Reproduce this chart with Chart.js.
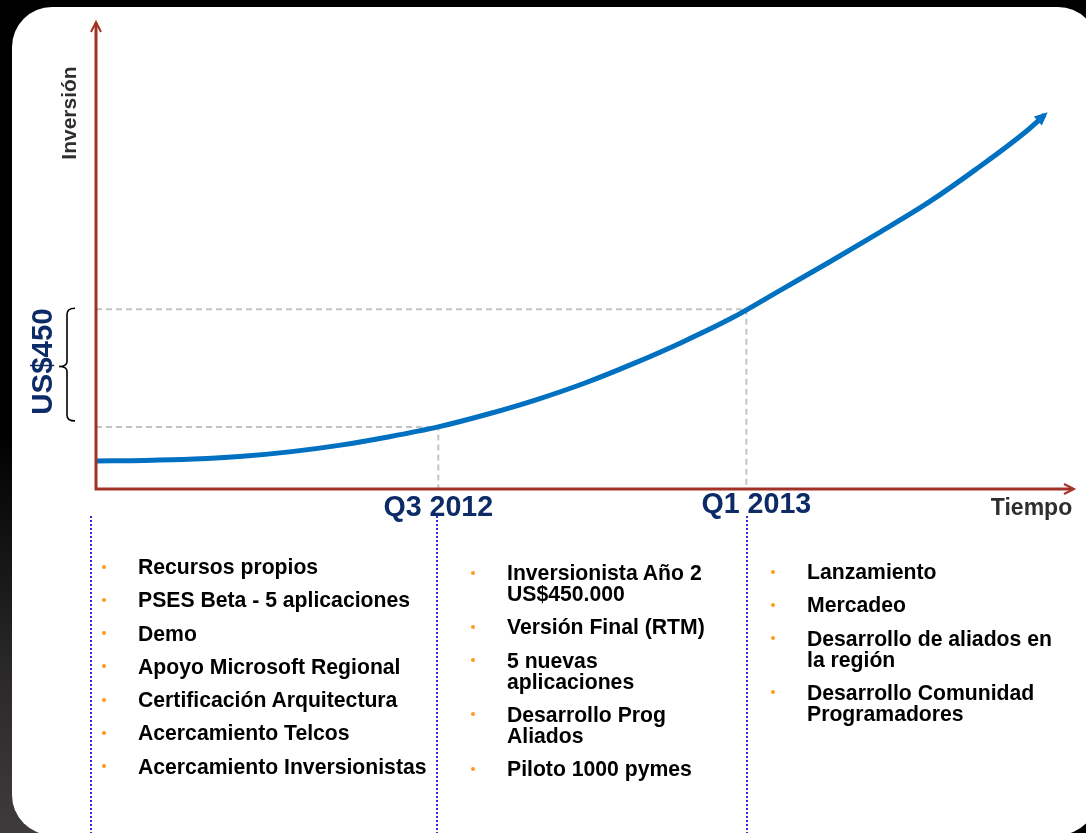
<!DOCTYPE html>
<html>
<head>
<meta charset="utf-8">
<script src="https://cdn.jsdelivr.net/npm/chart.js@4/dist/chart.umd.min.js"></script>
<style>
    html, body { margin: 0; padding: 0; background: #000; overflow: hidden; }
    body { width: 1086px; height: 833px; position: relative; font-family: "Liberation Sans", Arial, sans-serif; }
    .shade { position: absolute; left: 0; top: 430px; width: 40px; height: 403px;
             background: linear-gradient(to bottom, #000 0%, #2a2828 60%, #3d3b3b 100%); }
    .panel { position: absolute; left: 12px; top: 7px; width: 1086px; height: 828px;
             background: #fff; border-radius: 40px; }
    .wrap { position: absolute; left: 0; top: 0; width: 1086px; height: 833px; }
    ul.items { position: absolute; margin: 0; padding: 0; list-style: none;
               font-weight: bold; font-size: 21.2px; line-height: 21px; color: #000; }
    ul.items li { position: relative; padding-left: 36px; margin-bottom: 12.3px; white-space: pre-line; }
    ul.items li::before { content: ''; position: absolute; left: 0; top: 8.5px; width: 4px; height: 4px;
                          border-radius: 50%; background: #ff9a1a; }
</style>
</head>
<body>
<div class="shade"></div>
<div class="panel"></div>
<div class="wrap"><canvas id="growthChart"></canvas></div>
<ul class="items" id="col1" style="left:102px; top:556px"></ul>
<ul class="items" id="col2" style="left:471px; top:562px"></ul>
<ul class="items" id="col3" style="left:771px; top:561px"></ul>
<script>
// curva de inversión (unidades relativas 0-100)
const curveX = [0, 5, 10, 15, 20, 25, 30, 35, 40, 45, 50, 55, 60, 65, 70, 75, 80, 85, 90, 95, 97];
const curveY = [6.0, 6.1, 6.4, 7.0, 8.0, 9.4, 11.2, 13.3, 16.0, 19.1, 22.7, 26.9, 31.5, 36.6, 42.6, 48.6, 54.8, 61.2, 68.5, 76.4, 80.1];

// hitos
const milestoneLabels = ['Q3 2012', 'Q1 2013'];
const milestoneX = [35, 66.5];
const milestoneY = [13.3, 38.5];

const yAxisTitle = 'Inversión';
const xAxisTitle = 'Tiempo';
const braceLabel = 'US$450';

const col1Items = [
    'Recursos propios',
    'PSES Beta - 5 aplicaciones',
    'Demo',
    'Apoyo Microsoft Regional',
    'Certificación Arquitectura',
    'Acercamiento Telcos',
    'Acercamiento Inversionistas'
];
const col2Items = [
    'Inversionista Año 2\nUS$450.000',
    'Versión Final (RTM)',
    '5 nuevas\naplicaciones',
    'Desarrollo Prog\nAliados',
    'Piloto 1000 pymes'
];
const col3Items = [
    'Lanzamiento',
    'Mercadeo',
    'Desarrollo de aliados en\nla región',
    'Desarrollo Comunidad\nProgramadores'
];

const fillList = (id, items) => {
    const ul = document.getElementById(id);
    items.forEach((text) => {
        const li = document.createElement('li');
        li.textContent = text;
        ul.appendChild(li);
    });
};
fillList('col1', col1Items);
fillList('col2', col2Items);
fillList('col3', col3Items);

const AXIS_COLOR = '#a33226';
const CURVE_COLOR = '#0070c0';
const NAVY = '#0d2b66';

const guideData = (i) => [
    { x: 0, y: milestoneY[i] },
    { x: milestoneX[i], y: milestoneY[i] },
    { x: milestoneX[i], y: 0 }
];

const timelinePlugin = {
    id: 'timeline',
    beforeDatasetsDraw(chart) {
        const { ctx, chartArea: a } = chart;
        ctx.save();
        // líneas punteadas azules de las columnas
        ctx.strokeStyle = '#2b2bf0';
        ctx.lineWidth = 2;
        ctx.setLineDash([2, 2]);
        const xs = chart.scales.x;
        [a.left - 5, xs.getPixelForValue(milestoneX[0]) - 1, xs.getPixelForValue(milestoneX[1]) + 1].forEach((px) => {
            ctx.beginPath();
            ctx.moveTo(Math.round(px), 516);
            ctx.lineTo(Math.round(px), chart.height);
            ctx.stroke();
        });
        ctx.restore();
    },
    afterDatasetsDraw(chart) {
        const { ctx, chartArea: a, scales: { x, y } } = chart;
        ctx.save();

        // ejes
        ctx.strokeStyle = AXIS_COLOR;
        ctx.lineWidth = 3;
        ctx.beginPath();
        ctx.moveTo(a.left, a.bottom + 1.5);
        ctx.lineTo(a.left, a.top + 1);
        ctx.moveTo(a.left - 1.5, a.bottom);
        ctx.lineTo(a.right - 1, a.bottom);
        ctx.stroke();
        ctx.lineWidth = 2;
        ctx.beginPath();
        ctx.moveTo(a.left - 5, a.top + 10);
        ctx.lineTo(a.left, a.top);
        ctx.lineTo(a.left + 5, a.top + 10);
        ctx.moveTo(a.right - 10, a.bottom - 5);
        ctx.lineTo(a.right, a.bottom);
        ctx.lineTo(a.right - 10, a.bottom + 5);
        ctx.stroke();

        // punta de flecha de la curva
        const pts = chart.getDatasetMeta(0).data;
        const p1 = pts[pts.length - 2];
        const p2 = pts[pts.length - 1];
        const ang = Math.atan2(p2.y - p1.y, p2.x - p1.x);
        ctx.fillStyle = CURVE_COLOR;
        ctx.translate(p2.x, p2.y);
        ctx.rotate(ang);
        ctx.beginPath();
        ctx.moveTo(4, 0);
        ctx.lineTo(-9, -6);
        ctx.lineTo(-9, 6);
        ctx.closePath();
        ctx.fill();
        ctx.setTransform(1, 0, 0, 1, 0, 0);

        // etiquetas de hitos
        ctx.fillStyle = NAVY;
        ctx.font = 'bold 28.6px "Liberation Sans", Arial, sans-serif';
        ctx.textAlign = 'center';
        ctx.textBaseline = 'middle';
        const labelShift = [[0, 19], [10, 16]];
        milestoneLabels.forEach((lbl, i) => {
            ctx.fillText(lbl, x.getPixelForValue(milestoneX[i]) + labelShift[i][0], a.bottom + labelShift[i][1]);
        });

        // títulos de ejes
        ctx.fillStyle = '#2e2e2e';
        ctx.font = 'bold 23px "Liberation Sans", Arial, sans-serif';
        ctx.fillText(xAxisTitle, 1031.5, 509);
        ctx.save();
        ctx.translate(70, 113);
        ctx.rotate(-Math.PI / 2);
        ctx.font = 'bold 21px "Liberation Sans", Arial, sans-serif';
        ctx.fillText(yAxisTitle, 0, 0);
        ctx.restore();

        // llave y monto
        const yTop = y.getPixelForValue(milestoneY[1]) - 1;
        const yBot = y.getPixelForValue(milestoneY[0]) - 6;
        const mid = (yTop + yBot) / 2 + 2;
        const bx = 67;
        ctx.strokeStyle = '#000';
        ctx.lineWidth = 1.6;
        ctx.beginPath();
        ctx.moveTo(bx + 8, yTop);
        ctx.quadraticCurveTo(bx, yTop, bx, yTop + 6);
        ctx.lineTo(bx, mid - 5);
        ctx.quadraticCurveTo(bx, mid, bx - 8, mid);
        ctx.quadraticCurveTo(bx, mid, bx, mid + 5);
        ctx.lineTo(bx, yBot - 6);
        ctx.quadraticCurveTo(bx, yBot, bx + 8, yBot);
        ctx.stroke();

        ctx.save();
        ctx.translate(44, mid - 5);
        ctx.rotate(-Math.PI / 2);
        ctx.fillStyle = NAVY;
        ctx.font = 'bold 29.5px "Liberation Sans", Arial, sans-serif';
        ctx.fillText(braceLabel, 0, 0);
        ctx.restore();

        ctx.restore();
    }
};

new Chart(document.getElementById('growthChart'), {
    type: 'line',
    data: {
        datasets: [
            {
                label: 'Inversión',
                data: curveX.map((v, i) => ({ x: v, y: curveY[i] })),
                borderColor: CURVE_COLOR,
                borderWidth: 5,
                pointRadius: 0,
                cubicInterpolationMode: 'monotone',
                borderCapStyle: 'butt'
            },
            {
                label: milestoneLabels[0],
                data: guideData(0),
                borderColor: '#c3c3c3',
                borderWidth: 2,
                borderDash: [6, 4],
                pointRadius: 0,
                tension: 0
            },
            {
                label: milestoneLabels[1],
                data: guideData(1),
                borderColor: '#c3c3c3',
                borderWidth: 2,
                borderDash: [6, 4],
                pointRadius: 0,
                tension: 0
            }
        ]
    },
    options: {
        responsive: true,
        maintainAspectRatio: false,
        animation: false,
        layout: { padding: { left: 96, right: 12, top: 22, bottom: 344 } },
        scales: {
            x: { type: 'linear', min: 0, max: 100, display: false },
            y: { type: 'linear', min: 0, max: 100, display: false }
        },
        plugins: {
            legend: { display: false },
            tooltip: { enabled: false }
        }
    },
    plugins: [timelinePlugin]
});
</script>
</body>
</html>
